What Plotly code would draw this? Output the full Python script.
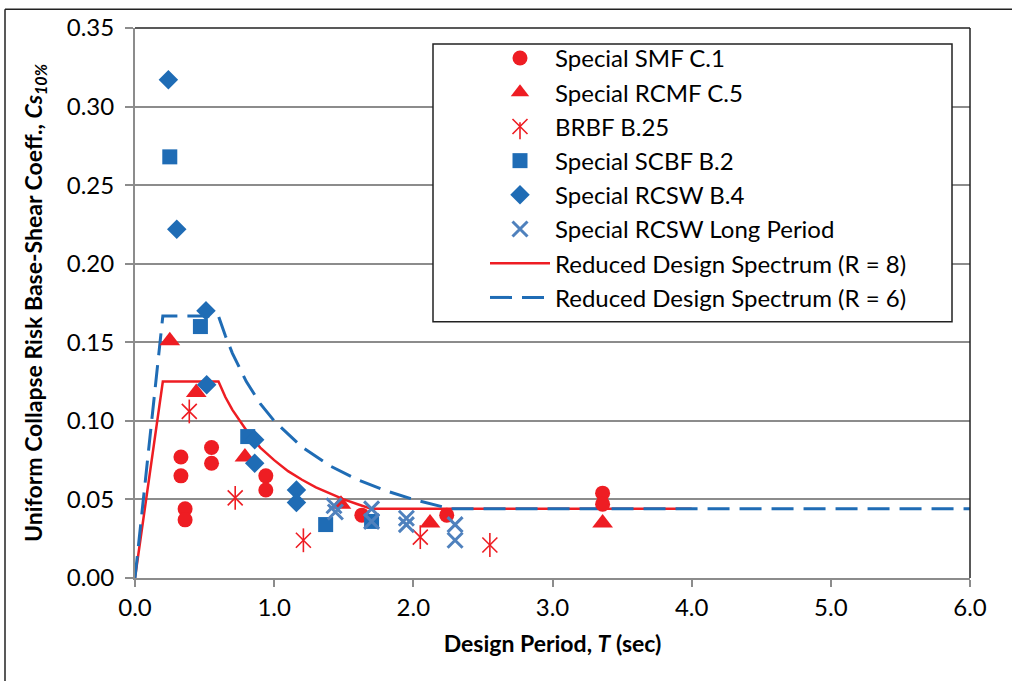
import plotly.graph_objects as go

# ---------------- data ----------------
smf_T  = [0.33, 0.33, 0.36, 0.36, 0.55, 0.55, 0.94, 0.94, 1.63, 2.24, 3.36, 3.36]
smf_Cs = [0.077, 0.065, 0.044, 0.037, 0.083, 0.073, 0.065, 0.056, 0.040, 0.040, 0.054, 0.047]

rcmf_T  = [0.25, 0.44, 0.79, 1.48, 2.12, 3.36]
rcmf_Cs = [0.151, 0.118, 0.077, 0.047, 0.035, 0.035]

brbf_T  = [0.39, 0.72, 1.21, 2.05, 2.55]
brbf_Cs = [0.106, 0.051, 0.024, 0.026, 0.021]

scbf_T  = [0.25, 0.47, 0.81, 1.37, 1.70]
scbf_Cs = [0.268, 0.160, 0.090, 0.034, 0.036]

rcsw_T  = [0.24, 0.30, 0.51, 0.515, 0.86, 0.86, 1.16, 1.16]
rcsw_Cs = [0.317, 0.222, 0.170, 0.123, 0.088, 0.073, 0.056, 0.048]

long_T  = [1.43, 1.44, 1.70, 1.70, 1.95, 1.95, 2.30, 2.30]
long_Cs = [0.046, 0.042, 0.044, 0.036, 0.038, 0.034, 0.034, 0.024]

r8_T  = [0.0, 0.2, 0.6, 0.65, 0.7, 0.8, 0.9, 1.0, 1.1, 1.2, 1.3, 1.4, 1.5, 1.6, 1.7, 4.0]
r8_Cs = [0.0, 0.125, 0.125, 0.115, 0.107, 0.094, 0.083, 0.075, 0.068, 0.0625, 0.0577, 0.0536, 0.050, 0.0469, 0.044, 0.044]

r6_T  = [0.0, 0.2, 0.6, 0.65, 0.7, 0.8, 0.9, 1.0, 1.2, 1.4, 1.6, 1.8, 2.0, 2.27, 6.0]
r6_Cs = [0.0, 0.1667, 0.1667, 0.154, 0.143, 0.125, 0.111, 0.100, 0.0833, 0.0714, 0.0625, 0.0556, 0.050, 0.044, 0.044]

x_ticks = [0, 1, 2, 3, 4, 5, 6]
y_ticks = [0.00, 0.05, 0.10, 0.15, 0.20, 0.25, 0.30, 0.35]

# ---------------- styles ----------------
RED = "#EE1D23"
BLUE = "#1F6CB5"
STEEL = "#4F81BD"
GRID = "#8C8C8C"
FONT = "Lato"

fig = go.Figure()

# lines first (drawn under markers), listed last in legend via legendrank
fig.add_trace(go.Scatter(x=r8_T, y=r8_Cs, mode="lines", name="Reduced Design Spectrum (R = 8)",
                         line=dict(color=RED, width=2.5), legendrank=7))
fig.add_trace(go.Scatter(x=r6_T, y=r6_Cs, mode="lines", name="Reduced Design Spectrum (R = 6)",
                         line=dict(color=BLUE, width=3, dash="22px,10px"), legendrank=8))

fig.add_trace(go.Scatter(x=smf_T, y=smf_Cs, mode="markers", name="Special SMF C.1",
                         marker=dict(symbol="circle", size=15, color=RED), legendrank=1))
fig.add_trace(go.Scatter(x=rcmf_T, y=rcmf_Cs, mode="markers", name="Special RCMF C.5",
                         marker=dict(symbol="triangle-up", size=18, color=RED), legendrank=2))
fig.add_trace(go.Scatter(x=brbf_T, y=brbf_Cs, mode="markers", name="BRBF B.25",
                         marker=dict(symbol="x-thin-open", size=15, color=RED,
                                     line=dict(color=RED, width=1.6)), legendrank=3))
fig.add_trace(go.Scatter(x=brbf_T, y=brbf_Cs, mode="markers", showlegend=False, hoverinfo="skip",
                         marker=dict(symbol="line-ns-open", size=17, color=RED,
                                     line=dict(color=RED, width=1.6))))
fig.add_trace(go.Scatter(x=scbf_T, y=scbf_Cs, mode="markers", name="Special SCBF B.2",
                         marker=dict(symbol="square", size=15, color=BLUE), legendrank=4))
fig.add_trace(go.Scatter(x=rcsw_T, y=rcsw_Cs, mode="markers", name="Special RCSW B.4",
                         marker=dict(symbol="diamond", size=15, color=BLUE), legendrank=5))
fig.add_trace(go.Scatter(x=long_T, y=long_Cs, mode="markers", name="Special RCSW Long Period",
                         marker=dict(symbol="x-thin-open", size=15, color=STEEL,
                                     line=dict(color=STEEL, width=3)), legendrank=6))

# plot area in pixels: x 135..970, y 24..578
L, R, T, B = 135, 970, 24, 578
W, H = R - L, B - T
def px(xp):
    return (xp - L) / W
def py(yp):
    return (B - yp) / H

shapes = [
    # legend box
    dict(type="rect", xref="paper", yref="paper", x0=px(433), x1=px(952), y0=py(320), y1=py(40),
         fillcolor="white", line=dict(color="#222222", width=1.5), layer="above"),
    # vertical stroke completing the asterisk symbol in the legend
    dict(type="line", xref="paper", yref="paper", x0=px(520), x1=px(520), y0=py(119), y1=py(136),
         line=dict(color=RED, width=1.6), layer="above"),
    # top and right frame
    dict(type="line", xref="paper", yref="paper", x0=0, x1=1, y0=1, y1=1,
         line=dict(color="#222222", width=1.5), layer="above"),
    dict(type="line", xref="paper", yref="paper", x0=1, x1=1, y0=0, y1=1,
         line=dict(color="#222222", width=1.5), layer="above"),
    # outer chart border (left and top)
    dict(type="line", xref="paper", yref="paper", x0=px(5), x1=px(1100), y0=py(5), y1=py(5),
         line=dict(color="#222222", width=1.5)),
    dict(type="line", xref="paper", yref="paper", x0=px(5), x1=px(5), y0=py(5), y1=py(700),
         line=dict(color="#222222", width=1.5)),
]

fig.update_layout(
    width=1012, height=681,
    margin=dict(l=L, r=1012 - R, t=T, b=681 - B, pad=0),
    paper_bgcolor="white", plot_bgcolor="white",
    font=dict(family=FONT, size=24, color="black"),
    showlegend=True,
    legend=dict(x=px(485), y=py(32), xanchor="left", yanchor="top",
                bgcolor="rgba(0,0,0,0)", borderwidth=0,
                font=dict(family=FONT, size=24, color="black"),
                itemwidth=60, traceorder="normal", tracegroupgap=0),
    shapes=shapes,
    xaxis=dict(range=[0, 6], tickvals=x_ticks, tickformat=".1f",
               showgrid=False, zeroline=False,
               showline=True, linecolor=GRID, linewidth=2,
               ticks="outside", ticklen=7, tickcolor=GRID, tickwidth=1.5,
               tickfont=dict(family=FONT, size=24, color="black"),
               title=dict(text="Design Period, <i>T</i> (sec)", standoff=16,
                          font=dict(family=FONT, size=23, color="black", weight="bold"))),
    yaxis=dict(range=[0, 0.35], tickvals=y_ticks, tickformat=".2f",
               showgrid=True, gridcolor=GRID, gridwidth=1.5, zeroline=False,
               showline=True, linecolor=GRID, linewidth=2,
               ticks="outside", ticklen=8, tickcolor=GRID, tickwidth=1.5,
               ticklabelstandoff=6,
               tickfont=dict(family=FONT, size=24, color="black"),
               title=dict(text="Uniform Collapse Risk Base-Shear Coeff., <i>Cs<sub>10%</sub></i>",
                          standoff=18,
                          font=dict(family=FONT, size=23, color="black", weight="bold"))),
)

fig.write_html("out.html")
